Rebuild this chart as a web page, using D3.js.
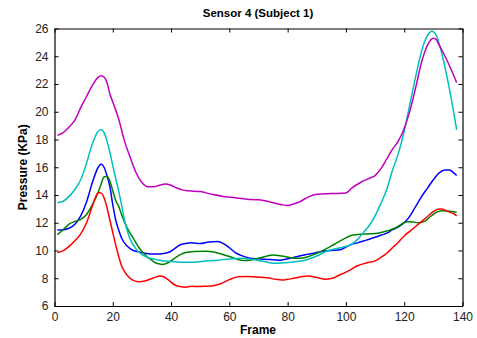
<!DOCTYPE html>
<html><head><meta charset="utf-8">
<script src="https://cdn.jsdelivr.net/npm/d3@7"></script>
<style>body{margin:0;background:#fff}svg{display:block}text{font-family:"Liberation Sans",Arial,sans-serif}</style>
</head><body>
<svg id="c" width="477" height="338"></svg>
<script>
const title = "Sensor 4 (Subject 1)";
const xLabel = "Frame";
const yLabel = "Pressure (KPa)";
const xTicks = [0,20,40,60,80,100,120,140];
const yTicks = [6,8,10,12,14,16,18,20,22,24,26];
const seriesNames = ["blue","green","red","cyan","magenta"];
const seriesColors = ["#0000ff","#008000","#ff0000","#00bfbf","#bf00bf"];

const blueFrames = [1,3,5,7,9,11,13,15,16,17,18,19,20,21,22,23,25,27,29,31,33,36,39,41,43,45,47,50,53,56,58,60,62,64,67,70,74,77,80,83,86,89,92,95,98,100,102,104,107,110,112,114,116,118,120,122,124,126,128,130,132,134,135.5,137,138];
const blueValues = [11.48,11.5,11.6,11.9,12.5,13.5,14.9,16.0,16.23,16.0,15.4,14.6,13.3,12.2,11.5,10.9,10.3,10.0,9.9,9.8,9.75,9.75,9.85,10.1,10.4,10.5,10.55,10.5,10.62,10.65,10.5,10.2,9.85,9.65,9.45,9.4,9.35,9.3,9.4,9.55,9.7,9.8,9.95,10.0,10.05,10.25,10.45,10.55,10.75,10.95,11.1,11.25,11.5,11.7,12.0,12.5,13.2,13.9,14.5,15.1,15.6,15.8,15.8,15.6,15.4];

const greenFrames = [1,3,5,7,9,11,13,15,16,17,18,19,20,21,22,23,25,27,29,31,33,35,37,39,41,43,45,48,52,55,58,61,64,66,69,72,75,78,81,84,87,90,93,96,99,102,105,108,111,114,117,120,121,123,125,127,129,131,133,135,138];
const greenValues = [11.15,11.5,11.9,12.1,12.25,12.6,13.3,14.2,14.8,15.3,15.35,15.0,14.3,13.6,13.2,12.6,11.6,10.9,10.2,9.7,9.35,9.08,9.0,9.12,9.4,9.68,9.85,9.93,9.95,9.88,9.7,9.5,9.3,9.28,9.4,9.55,9.68,9.6,9.48,9.44,9.55,9.8,10.1,10.45,10.8,11.1,11.18,11.2,11.25,11.4,11.62,12.0,12.08,12.05,12.0,12.1,12.45,12.75,12.87,12.85,12.75];

const redFrames = [1,3,5,7,9,11,13,14,15,16,17,18,19,20,21,22,23,24,25,27,29,31,33,35,36,37,39,41,43,45,47,49,51,54,57,60,63,66,70,73,76,78,80,82,85,87,90,93,95,98,101,104,107,110,112,114,116,118,120,122,124,126,128,130,132,133,135,137,138];
const redValues = [9.84,9.99,10.3,10.7,11.2,12.0,13.2,13.8,14.16,14.15,13.8,13.1,12.2,11.3,10.4,9.6,8.9,8.5,8.2,7.85,7.75,7.8,7.95,8.1,8.17,8.15,7.9,7.55,7.4,7.36,7.42,7.4,7.42,7.44,7.6,7.9,8.1,8.12,8.08,8.03,7.92,7.87,7.92,8.0,8.12,8.16,8.05,7.93,7.98,8.25,8.55,8.9,9.1,9.25,9.5,9.8,10.2,10.6,11.05,11.4,11.75,12.1,12.45,12.8,13.0,13.0,12.8,12.65,12.5];

const cyanFrames = [1,3,5,7,9,11,13,15,16,17,18,19,20,21,22,23,24,25,26,28,30,32,34,36,40,44,48,52,56,60,64,68,72,75,78,82,86,90,94,98,102,104,106,108,110,112,114,116,118,120,122,124,126,128,129.5,131,132,134,136,138];
const cyanValues = [13.45,13.55,13.9,14.4,15.1,16.3,17.7,18.6,18.7,18.5,17.9,17.1,16.1,15.2,14.3,13.3,12.2,11.4,10.8,10.1,9.7,9.5,9.38,9.3,9.2,9.15,9.15,9.25,9.3,9.38,9.44,9.35,9.2,9.08,9.1,9.17,9.3,9.6,10.0,10.2,10.45,10.8,11.3,11.8,12.5,13.4,14.4,15.8,17.0,18.6,20.6,22.6,24.4,25.5,25.8,25.5,24.9,23.2,21.1,18.7];

const magentaFrames = [1,3,5,7,9,11,13,15,16,17,18,19,20,22,24,26,28,30,32,34,36,38,40,42,44,46,50,54,58,62,66,70,74,78,80,82,84,87,90,95,100,102,105,108,110,112,114,116,118,120,122,124,126,128,130,131,132,134,136,138];
const magentaValues = [18.3,18.5,18.9,19.4,20.3,21.1,21.9,22.5,22.6,22.5,22.1,21.3,20.7,19.5,17.9,16.7,15.6,14.9,14.6,14.6,14.7,14.8,14.7,14.5,14.35,14.3,14.25,14.05,13.9,13.8,13.7,13.65,13.5,13.3,13.25,13.35,13.5,13.85,14.05,14.1,14.15,14.5,14.9,15.2,15.4,15.9,16.6,17.3,17.9,18.8,20.1,21.8,23.6,24.8,25.3,25.2,24.8,24.0,23.1,22.1];

const frames = [blueFrames, greenFrames, redFrames, cyanFrames, magentaFrames];
const values = [blueValues, greenValues, redValues, cyanValues, magentaValues];

const W = 477, H = 338;
const m = {left: 54.5, right: 477 - 462.5, top: 28.5, bottom: 338 - 306};
const svg = d3.select("#c");
const x = d3.scaleLinear().domain([0,140]).range([m.left, W - m.right]);
const y = d3.scaleLinear().domain([6,26]).range([H - m.bottom, m.top]);

const fs = 12;
// axes
const gB = svg.append("g").attr("transform", `translate(0,${H - m.bottom})`)
  .call(d3.axisBottom(x).tickValues(xTicks).tickSizeInner(-4).tickSizeOuter(0).tickPadding(6));
const gT = svg.append("g").attr("transform", `translate(0,${m.top})`)
  .call(d3.axisTop(x).tickValues(xTicks).tickSizeInner(-4).tickSizeOuter(0).tickFormat(""));
const gL = svg.append("g").attr("transform", `translate(${m.left},0)`)
  .call(d3.axisLeft(y).tickValues(yTicks).tickSizeInner(-4).tickSizeOuter(0).tickPadding(6));
const gR = svg.append("g").attr("transform", `translate(${W - m.right},0)`)
  .call(d3.axisRight(y).tickValues(yTicks).tickSizeInner(-4).tickSizeOuter(0).tickFormat(""));
[gB,gT,gL,gR].forEach(g => {
  g.selectAll("path.domain").attr("stroke","#000").attr("stroke-width",1.2);
  g.selectAll(".tick line").attr("stroke","#000");
  g.selectAll("text").attr("font-size",fs).attr("fill","#222").attr("font-family",'"Liberation Sans",Arial,sans-serif');
});

// lines
const line = d3.line().x(d => x(d[0])).y(d => y(d[1])).curve(d3.curveMonotoneX);
frames.forEach((fr, i) => {
  const pts = fr.map((f, j) => [f, values[i][j]]);
  svg.append("path").datum(pts).attr("d", line)
    .attr("fill","none").attr("stroke", seriesColors[i]).attr("stroke-width",1.5)
    .attr("stroke-linejoin","round");
});

// labels
svg.append("text").attr("x", 258).attr("y", 17).attr("text-anchor","middle")
  .attr("font-size",11.5).attr("font-weight","bold").text(title);
svg.append("text").attr("x", 258).attr("y", 334).attr("text-anchor","middle")
  .attr("font-size",12).attr("font-weight","bold").text(xLabel);
svg.append("text").attr("transform", `translate(27,${(m.top + H - m.bottom)/2}) rotate(-90)`)
  .attr("text-anchor","middle").attr("font-size",12).attr("font-weight","bold").text(yLabel);
</script>
</body></html>
